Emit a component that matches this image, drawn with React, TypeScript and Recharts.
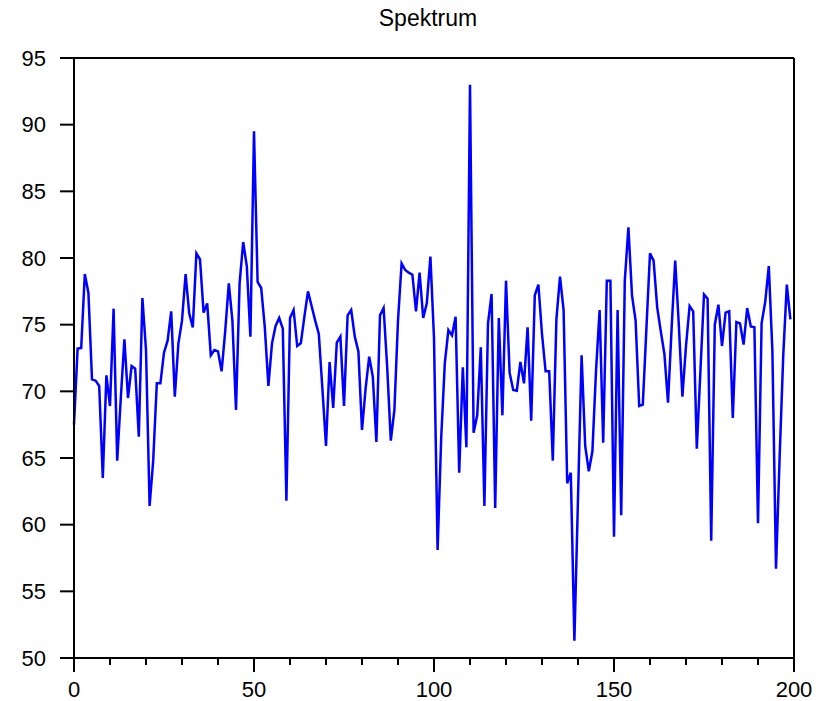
import { LineChart, Line, XAxis, YAxis, ReferenceLine } from "recharts";

// spectrum values, index 0..199
const spectrum = [
  67.5, 73.2, 73.25, 78.8, 77.4, 70.9, 70.8, 70.4, 63.5, 71.2,
  68.9, 76.2, 64.8, 69.5, 73.9, 69.5, 71.9, 71.7, 66.6, 77.0,
  73.1, 61.4, 64.8, 70.6, 70.6, 72.9, 73.8, 76.0, 69.6, 73.6,
  75.3, 78.8, 75.85, 74.8, 80.35, 79.9, 75.9, 76.6, 72.7, 73.1,
  73.0, 71.5, 74.5, 78.1, 75.3, 68.6, 78.1, 81.2, 79.4, 74.1,
  89.5, 78.2, 77.75, 74.8, 70.4, 73.6, 74.9, 75.5, 74.7, 61.8,
  75.5, 76.1, 73.4, 73.6, 75.6, 77.5, 76.4, 75.3, 74.3, 70.2,
  65.9, 72.2, 68.75, 73.65, 74.1, 68.9, 75.7, 76.1, 74.1, 73.0,
  67.1, 70.2, 72.6, 71.1, 66.2, 75.7, 76.25, 71.8, 66.3, 68.6,
  75.3, 79.6, 79.1, 78.9, 78.75, 76.0, 78.9, 75.5, 76.6, 80.1,
  74.0, 58.1, 66.5, 72.1, 74.6, 74.2, 75.6, 63.9, 71.8, 65.8,
  93.0, 66.9, 68.2, 73.3, 61.4, 75.1, 77.3, 61.25, 75.5, 68.2,
  78.3, 71.4, 70.1, 70.05, 72.2, 70.6, 74.8, 67.8, 77.2, 78.0,
  74.3, 71.5, 71.5, 64.8, 75.4, 78.6, 76.1, 63.1, 63.9, 51.3,
  62.0, 72.7, 65.9, 64.0, 65.5, 71.5, 76.1, 66.15, 78.3, 78.3,
  59.1, 76.1, 60.7, 78.3, 82.3, 77.2, 75.3, 68.9, 69.0, 74.7,
  80.35, 79.8, 76.3, 74.5, 72.8, 69.15, 74.7, 79.8, 75.0, 69.6,
  73.4, 76.4, 76.0, 65.7, 71.5, 77.27, 76.95, 58.8, 75.0, 76.5,
  73.4, 75.9, 76.0, 68.0, 75.2, 75.1, 73.5, 76.25, 74.86, 74.8,
  60.1, 75.1, 76.7, 79.4, 73.0, 56.7, 65.0, 72.6, 78.0, 75.4,
];

const xTicks = [
  0, 10, 20, 30, 40, 50, 60, 70, 80, 90, 100,
  110, 120, 130, 140, 150, 160, 170, 180, 190, 200,
];
const xLabels = [0, 50, 100, 150, 200];
const yTicks = [50, 55, 60, 65, 70, 75, 80, 85, 90, 95];

const FONT = "'Liberation Sans', Arial, Helvetica, sans-serif";

const chartData = spectrum.map((v, i) => ({ n: i, value: v }));

function XTick(props: any) {
  const { x, y, payload } = props;
  const major = xLabels.includes(payload.value);
  return (
    <g>
      <line x1={x} x2={x} y1={y} y2={y + (major ? 14 : 7)} stroke="#000" strokeWidth={2} />
      {major && (
        <text
          x={x}
          y={y + 23}
          dy="0.71em"
          textAnchor="middle"
          fill="#000"
          fontSize={22}
          fontFamily={FONT}
        >
          {payload.value}
        </text>
      )}
    </g>
  );
}

export default function App() {
  return (
    <div style={{ position: "absolute", left: 0, top: 0, width: 826, height: 701, background: "#fff" }}>
      <div
        style={{
          position: "absolute",
          left: 0,
          top: 5,
          width: 856,
          textAlign: "center",
          fontFamily: FONT,
          fontSize: 23,
          color: "#000",
        }}
      >
        Spektrum
      </div>
      <LineChart
        width={826}
        height={701}
        data={chartData}
        margin={{ top: 58, right: 32, left: 0, bottom: 0 }}
      >
        <XAxis
          dataKey="n"
          type="number"
          domain={[0, 200]}
          ticks={xTicks}
          interval={0}
          height={43}
          tickSize={0}
          tickMargin={0}
          tickLine={false}
          axisLine={{ stroke: "#000", strokeWidth: 2 }}
          tick={<XTick />}
        />
        <YAxis
          type="number"
          domain={[50, 95]}
          ticks={yTicks}
          interval={0}
          width={74}
          tickSize={14}
          tickMargin={14}
          tickLine={{ stroke: "#000", strokeWidth: 2 }}
          axisLine={{ stroke: "#000", strokeWidth: 2 }}
          tick={{ fill: "#000", fontSize: 22, fontFamily: FONT }}
        />
        <ReferenceLine y={95} stroke="#000" strokeWidth={2} />
        <ReferenceLine x={200} stroke="#000" strokeWidth={2} />
        <Line
          type="linear"
          dataKey="value"
          stroke="#0000ff"
          strokeWidth={2.5}
          dot={false}
          isAnimationActive={false}
        />
      </LineChart>
    </div>
  );
}
